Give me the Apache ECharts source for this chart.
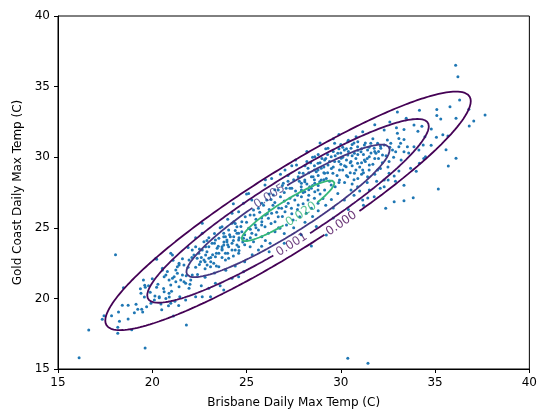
<!DOCTYPE html>
<html>
<head>
<meta charset="utf-8">
<script src="https://cdn.jsdelivr.net/npm/echarts@6/dist/echarts.min.js"></script>
<style>
  html, body { margin: 0; padding: 0; background: #fff; }
  #chart { width: 540px; height: 414px; }
</style>
</head>
<body>
<div id="chart"></div>
<script>
// Daily maximum temperatures (°C), paired by day
const brisbane = [
  18.05,18.47,17.44,17.35,17.84,16.63,16.12,19.62,18.17,18.17,18.26,18.91,18.21,18.41,18.72,18.72,19.05,19.23,19.44,19.49,
  19.14,19.40,19.37,19.60,19.89,19.58,19.93,20.23,20.14,20.37,20.72,20.63,20.89,21.02,20.46,20.86,20.54,20.23,21.07,20.72,
  20.89,21.16,21.33,21.33,21.42,21.68,21.46,21.77,21.81,21.12,
  19.53,19.63,20.19,20.54,20.63,21.07,20.98,21.25,21.42,21.51,21.60,21.77,21.95,22.04,22.12,21.68,21.42,21.25,21.95,22.21,
  22.38,22.56,22.74,22.83,23.00,22.91,23.09,23.26,23.35,23.53,23.44,23.70,23.79,23.96,24.05,24.23,24.32,24.49,24.58,24.75,
  23.79,23.88,23.53,23.35,23.17,23.00,22.83,22.65,22.47,22.30,22.12,22.74,23.70,24.23,23.53,23.88,24.05,24.40,24.58,22.65,
  23.00,23.35,23.79,24.23,24.58,24.84,23.09,20.11,20.37,20.98,22.30,22.65,22.65,20.98,
  23.70,23.96,24.23,23.88,24.49,24.14,24.58,24.84,25.11,25.28,25.46,25.63,25.81,25.98,26.16,26.33,26.51,26.68,26.86,27.04,
  27.21,27.38,27.56,27.74,27.91,28.09,28.26,28.44,28.62,28.79,28.96,29.14,28.79,28.44,28.09,27.91,27.74,27.65,28.62,26.95,
  27.30,26.68,26.42,26.07,25.81,25.63,25.37,25.19,24.93,24.75,24.49,24.32,24.05,23.79,25.02,25.37,25.81,26.16,26.51,26.77,
  27.12,27.47,27.82,28.17,28.44,28.79,29.05,29.14,25.19,24.58,25.63,26.25,25.28,25.11,25.98,26.33,24.84,24.58,24.23,27.04,
  27.91,28.09,28.35,28.00,28.26,28.53,28.70,28.79,28.96,29.14,29.32,29.49,29.67,29.84,30.02,30.19,30.37,30.54,30.72,30.89,
  31.07,31.25,31.42,31.59,31.77,31.95,32.12,32.30,31.51,31.86,32.21,31.25,30.89,30.54,30.28,29.93,29.58,29.23,28.88,28.62,
  29.49,29.93,30.37,30.72,31.16,31.51,29.32,29.67,30.37,30.81,31.16,32.30,33.00,31.95,31.42,30.89,32.30,31.77,31.51,31.16,
  32.38,32.83,30.19,29.84,30.54,33.17,32.91,33.08,
  36.09,36.21,36.30,37.65,37.05,36.81,36.79,36.11,35.79,35.09,35.09,34.17,35.68,35.41,35.07,34.79,35.58,36.11,35.70,35.17,
  34.46,34.09,33.88,33.47,32.95,33.35,33.88,33.53,34.14,34.37,34.49,34.17,33.70,33.35,33.08,33.08,32.83,32.56,32.51,33.35,
  33.84,33.35,32.09,32.56,32.74,32.65,32.47,33.35,
  30.37,31.44,28.44,29.23,31.43,
  29.0,29.3,29.6,29.9,30.1,30.4,30.6,30.9,31.1,31.3,30.0,30.3,30.6,30.8,31.0,31.3,31.6,31.8,32.0,32.2,
  29.5,29.8,30.1,30.5,30.9,31.2,31.5,29.1,29.4,28.6,28.9,28.3,28.6,29.7,30.2,30.6,31.0,31.4,31.8,32.1,
  32.4,32.5,30.0,30.4,29.2,28.8,28.4,28.1,27.8,27.5,27.2,27.6,29.6,30.9,31.7,32.6,32.8,31.9,32.3,30.7,
  26.2,26.5,26.8,27.0,27.3,27.6,27.9,28.2,27.1,27.4,27.7,28.0,28.3,28.6,28.9,26.6,26.9,26.3,26.0,25.7,
  25.9,26.2,26.5,26.9,27.2,25.5,25.8,26.7,27.0,27.5,28.1,28.5,28.8,29.2,29.5,29.6,
  22.3,22.6,22.9,23.2,23.5,23.8,24.1,24.4,24.7,25.0,22.8,23.1,23.4,23.7,24.0,24.3,24.6,24.9,25.2,25.5,
  22.5,22.9,23.3,23.6,24.0,22.1,21.9,22.4,22.8,23.3,23.9,24.4,24.9,25.3,25.8,26.0,21.8,22.0,22.6,23.6,
  21.6,21.9,22.3,20.8,21.1,
  20.3,20.6,20.9,21.2,19.8,20.0,21.4,19.7,20.5,
  25.0,24.3,26.0,26.8,27.4,28.2,28.9,29.9,26.2,27.0,27.9,28.7,29.6,30.4,31.2,33.2,33.6,32.9,34.0,34.4,
  33.0,32.6,31.8,34.8,35.3,34.3,24.8,
  28.2,28.5,28.8,29.1,29.4,29.7,30.0,30.3,30.6,30.9,31.2,31.5,31.8,32.1,29.3,29.6,29.9,30.2,30.5,30.8,
  31.1,31.4,31.7,32.0,28.5,28.8,29.1,29.9,30.3,30.7,31.1,27.7,28.0,28.3,27.4,27.0,26.7,26.4,26.1,25.8,
  25.5,25.2,24.9,24.6,24.3,24.0,23.7,23.4,23.1,22.8,22.5,23.0,23.3,24.4,25.4,26.3,27.1,27.8,28.6,29.2,
  30.1,30.7
];
const goldCoast = [
  23.09,20.76,18.77,18.52,18.77,17.76,15.80,16.49,17.53,17.95,18.38,17.78,19.04,19.51,19.51,18.54,18.99,19.23,19.23,19.04,
  19.58,20.36,20.69,20.93,20.43,20.10,19.65,20.79,20.17,20.05,20.00,20.47,20.36,20.50,19.60,19.48,22.13,22.77,23.07,21.66,
  21.30,21.54,21.78,22.25,22.49,21.18,20.12,19.89,18.12,18.75,
  21.30,20.79,22.84,22.01,21.54,21.42,20.95,21.18,20.83,21.30,21.66,21.07,20.72,21.30,21.66,22.37,22.37,22.01,22.72,23.07,
  22.84,22.60,22.72,23.07,22.84,22.37,22.25,22.49,22.95,23.19,23.55,23.43,23.78,24.14,23.66,23.90,24.37,24.61,24.14,24.72,
  24.61,24.37,24.26,24.14,23.90,23.66,23.66,23.43,23.19,23.66,23.43,24.02,25.08,25.32,22.25,22.72,22.84,23.43,23.66,20.12,
  20.72,21.07,20.59,21.42,21.54,21.89,20.12,19.89,20.12,19.65,20.12,24.61,25.32,23.19,
  23.66,24.02,23.43,23.19,23.78,24.37,24.61,24.26,24.96,24.61,25.20,24.84,25.43,25.08,25.67,26.03,25.43,25.79,26.38,26.14,
  26.74,26.38,26.97,26.61,27.20,27.56,26.97,27.80,28.15,27.68,28.39,28.86,29.09,28.62,28.39,28.15,28.62,29.45,30.04,28.15,
  27.80,27.68,27.32,26.97,26.74,26.38,26.26,25.91,25.79,25.43,25.08,25.43,24.84,24.37,24.14,24.02,24.37,24.61,24.72,24.96,
  25.20,25.55,25.79,26.03,26.38,26.74,27.08,27.68,23.66,23.19,23.43,23.90,26.97,27.43,28.03,28.50,26.74,26.14,26.03,29.09,
  27.68,28.27,27.91,28.86,29.21,28.62,28.97,29.57,29.21,29.80,29.45,30.04,29.69,30.28,29.92,30.51,30.16,30.63,30.28,30.74,
  30.39,30.86,30.51,30.98,30.63,30.98,30.63,30.86,30.04,30.28,30.16,29.80,29.57,29.69,29.33,29.09,28.86,28.50,28.27,27.56,
  28.03,28.39,28.62,28.86,29.09,29.45,30.63,30.98,31.10,31.45,31.81,31.93,31.69,29.09,28.62,27.91,28.39,27.20,27.68,26.97,
  26.38,26.85,26.97,27.43,27.68,30.98,30.39,31.33,
  36.51,35.70,34.05,32.99,32.56,32.21,33.39,32.75,33.58,33.37,32.96,33.32,31.50,31.59,31.41,30.84,30.53,29.92,29.38,27.75,
  31.45,31.83,32.28,32.75,32.09,31.26,30.74,30.74,30.51,30.86,30.04,29.57,29.21,30.39,30.74,29.02,28.67,28.86,28.39,28.01,
  27.13,26.92,27.80,29.69,30.51,30.98,31.22,31.97,
  15.76,15.40,23.71,24.49,27.11,
  29.9,30.2,30.4,30.6,30.0,30.4,30.9,30.2,30.6,31.0,29.5,29.8,29.4,29.9,29.3,29.7,30.3,29.9,30.4,29.6,
  29.2,28.7,29.1,28.9,28.5,28.9,29.1,28.9,28.3,29.4,29.6,28.9,28.4,27.9,28.2,28.1,27.6,28.2,28.8,29.2,
  30.1,29.3,30.9,31.2,30.6,30.2,29.6,29.4,28.9,28.4,28.7,29.8,31.3,31.1,31.3,30.7,30.0,28.3,27.9,27.3,
  26.3,26.8,27.2,27.5,27.1,27.6,27.9,28.1,26.5,26.0,26.3,26.7,27.3,27.1,27.4,26.1,25.8,25.3,25.9,26.1,
  26.6,27.4,27.7,28.0,28.3,25.6,25.2,25.0,24.6,25.0,25.4,25.8,26.2,26.6,27.0,26.4,
  22.2,22.9,23.3,23.1,23.7,24.0,24.5,24.8,25.1,25.4,22.1,22.6,22.3,22.9,23.2,23.0,23.4,23.8,24.3,24.5,
  23.5,24.1,24.6,25.0,25.6,22.9,22.2,21.7,21.5,21.8,22.0,22.3,22.6,23.1,23.7,24.1,21.6,21.0,20.9,20.9,
  22.8,23.6,24.3,21.9,22.7,
  21.0,20.7,20.1,19.8,20.9,21.4,19.5,19.4,19.2,
  27.4,26.7,28.4,28.8,29.4,30.4,31.0,31.6,23.3,23.9,24.5,25.1,25.7,26.3,26.6,29.8,30.3,28.3,29.0,29.9,
  33.2,32.5,32.3,32.0,32.7,32.2,24.0,
  29.7,30.0,28.7,29.3,29.7,30.1,30.3,30.6,30.1,30.5,30.2,30.7,30.4,30.8,28.9,29.3,29.7,29.4,29.6,29.1,
  29.6,29.9,29.5,29.9,28.0,28.0,28.4,28.2,28.7,28.4,28.8,27.3,27.5,27.7,27.8,26.9,26.4,26.6,26.0,25.7,
  25.0,24.9,24.5,24.3,24.1,23.8,23.5,23.2,22.9,22.6,22.4,24.3,23.9,25.3,25.9,27.0,27.8,28.3,29.1,29.9,
  30.7,31.0
];
const axisMin = 15, axisMax = 40, axisStep = 5;

// Fitted bivariate normal and the density levels that are contoured
const fitMean = [27.2, 26.2];
const fitSd = [2.88, 2.51];
const fitRho = 0.92;
const fitPeak = 0.0288;
const contourLevels = [0.0001, 0.001, 0.005, 0.02];

// Contour styling (viridis-coloured, inline labels)
const contourColors = ['#440154', '#460b5e', '#453781', '#35b779'];
const labelSpots = [[29.97, 25.38], [27.30, 23.96], [26.25, 27.20], [27.83, 26.08]];
const FONT = '"DejaVu Sans", "Liberation Sans", sans-serif';

const chart = echarts.init(document.getElementById('chart'), null, { renderer: 'canvas' });

const axisCommon = {
  type: 'value', min: axisMin, max: axisMax, interval: axisStep,
  nameLocation: 'middle',
  nameTextStyle: { fontFamily: FONT, fontSize: 12, color: '#000' },
  axisLine: { show: true, onZero: false, lineStyle: { color: '#000', width: 1 } },
  axisTick: { show: true, inside: false, length: 4, lineStyle: { color: '#000', width: 1 } },
  axisLabel: { fontFamily: FONT, fontSize: 12, color: '#000', margin: 8 },
  splitLine: { show: false }
};

const scatterSeries = {
  type: 'scatter', name: 'days',
  data: brisbane.map((b, i) => [b, goldCoast[i]]),
  symbolSize: 3,
  itemStyle: { color: '#1f77b4', opacity: 1 },
  z: 2
};

chart.setOption({
  animation: false,
  backgroundColor: '#fff',
  grid: { left: 58, top: 16, right: 8, bottom: 45, show: true, borderColor: '#000', borderWidth: 1, backgroundColor: 'transparent' },
  xAxis: Object.assign({}, axisCommon, { name: 'Brisbane Daily Max Temp (C)', nameGap: 28 }),
  yAxis: Object.assign({}, axisCommon, { name: 'Gold Coast Daily Max Temp (C)', nameGap: 33 }),
  series: [scatterSeries]
});

// Closed contour of the fitted normal for one density level
function contourPath(level, n) {
  const r = Math.sqrt(2 * Math.log(fitPeak / level));
  const s = Math.sqrt(1 - fitRho * fitRho);
  const pts = [];
  for (let i = 0; i < n; i++) {
    const t = 2 * Math.PI * i / n;
    pts.push([
      fitMean[0] + r * fitSd[0] * Math.cos(t),
      fitMean[1] + r * fitSd[1] * (fitRho * Math.cos(t) + s * Math.sin(t))
    ]);
  }
  return pts;
}

const measureCtx = document.createElement('canvas').getContext('2d');
measureCtx.font = '12px ' + FONT;

const series = [scatterSeries];
const labelData = [];
contourLevels.forEach((level, k) => {
  const text = level.toFixed(3);
  const n = 720;
  const pts = contourPath(level, n);
  const px = pts.map(p => chart.convertToPixel({ gridIndex: 0 }, p));
  const spot = chart.convertToPixel({ gridIndex: 0 }, labelSpots[k]);
  let c = 0, best = Infinity;
  px.forEach((p, i) => {
    const d = (p[0] - spot[0]) ** 2 + (p[1] - spot[1]) ** 2;
    if (d < best) { best = d; c = i; }
  });
  const half = measureCtx.measureText(text).width / 2 + 3;
  // walk both ways from the label centre to open a gap for the text
  let a = c, b = c;
  while (Math.hypot(px[a][0] - px[c][0], px[a][1] - px[c][1]) < half) a = (a - 1 + n) % n;
  while (Math.hypot(px[b][0] - px[c][0], px[b][1] - px[c][1]) < half) b = (b + 1) % n;
  const line = [];
  for (let i = b; i !== a; i = (i + 1) % n) line.push(pts[i]);
  line.push(pts[a]);
  series.push({
    type: 'line', data: line, showSymbol: false, symbol: 'none', smooth: false,
    lineStyle: { color: contourColors[k], width: 1.8 }, z: 3, silent: true
  });
  let ang = -Math.atan2(px[b][1] - px[a][1], px[b][0] - px[a][0]) * 180 / Math.PI;
  if (ang > 90) ang -= 180;
  if (ang < -90) ang += 180;
  labelData.push({
    value: pts[c],
    label: { show: true, formatter: text, rotate: ang, position: 'inside', color: contourColors[k],
             fontFamily: FONT, fontSize: 12, align: 'center', verticalAlign: 'middle' }
  });
});
series.push({
  type: 'scatter', data: labelData, symbol: 'circle', symbolSize: 1, z: 4, silent: true,
  itemStyle: { color: 'rgba(255,255,255,0)' },
  labelLayout: { hideOverlap: false }
});

chart.setOption({ series: series }, { replaceMerge: ['series'] });
</script>
</body>
</html>
